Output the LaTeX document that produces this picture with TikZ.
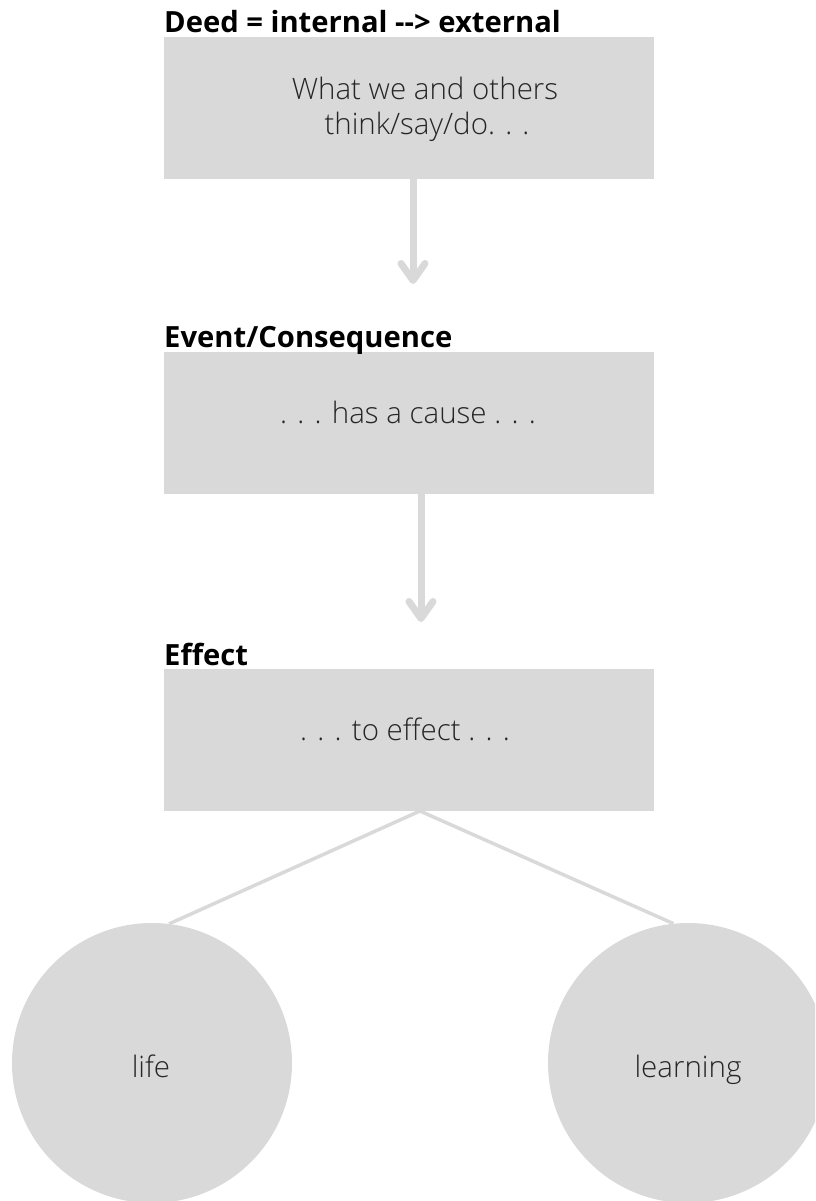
\documentclass[tikz,border=0pt]{standalone}
\usepackage{fontspec}
\setmainfont{Open Sans}
\newfontfamily\lightfont{Open Sans Light}
\usetikzlibrary{arrows.meta}
\definecolor{boxgray}{HTML}{D9D9D9}
\definecolor{txtgray}{HTML}{262626}
\tikzset{
  box/.style={fill=boxgray, draw=none, minimum width=490pt, minimum height=142pt, inner sep=0pt},
  title/.style={anchor=base west, inner sep=0pt, font=\fontsize{29.2}{34}\selectfont\bfseries, text=black},
  body/.style={anchor=base, inner sep=0pt, font=\lightfont\fontsize{29.5}{35}\selectfont, text=txtgray, align=center},
  bubble/.style={circle, fill=boxgray, draw=none, minimum size=280pt, inner sep=0pt},
  flow/.style={draw=boxgray, line width=7pt, -{Straight Barb[round, length=17pt, width=24pt]}},
  branch/.style={draw=boxgray, line width=3.5pt}
}
\begin{document}
\begin{tikzpicture}[x=1pt,y=-1pt]
\useasboundingbox (0,0) rectangle (815,1201);
\clip (0,0) rectangle (815,1201);
% boxes
\node[box] (b1) at (409,108) {};
\node[box] (b2) at (409,423) {};
\node[box] (b3) at (409,740) {};
% titles
\node[title] (t1) at (164,33) {Deed = internal -{}-> external};
\node[title] (t2) at (164,347) {Event/Consequence};
\node[title] (t3) at (164,665) {Effect};
% box texts
\node[body] (x1) at (425,100) {What we and others};
\node[body] (x1b) at (427,135) {think/say/do. . .};
\node[body] (x2) at (408,423) {. . . has a cause . . .};
\node[body] (x3) at (405,740) {. . . to effect . . .};
% circles
\node[bubble] (life) at (152,1063) {};
\node[bubble] (learn) at (688,1063) {};
\node[body] (lifet) at (151,1077) {life};
\node[body] (learnt) at (688,1077) {learning};
% arrows
\coordinate (a1end) at (413,284);
\coordinate (a2end) at (421,622);
\draw[flow] ([xshift=4pt]b1.south) -- (a1end);
\draw[flow] ([xshift=12pt]b2.south) -- (a2end);
% branches
\coordinate (apex) at (420,811);
\draw[branch] (apex) -- (life.83);
\draw[branch] (apex) -- (learn.96);
\end{tikzpicture}
\end{document}
